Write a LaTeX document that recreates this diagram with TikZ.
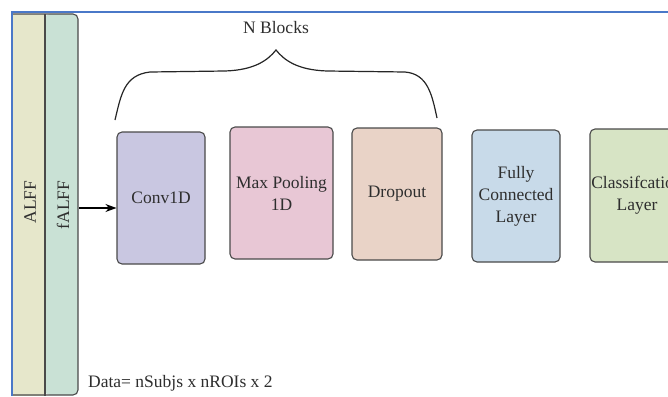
\documentclass[tikz,border=0pt]{standalone}
\usepackage{fontspec}
\setmainfont{Liberation Serif}
\usetikzlibrary{arrows.meta}
\definecolor{frameblue}{HTML}{4A78C8}
\definecolor{edge}{HTML}{4A4A4A}
\definecolor{txt}{HTML}{2E2E2E}
\definecolor{cAlff}{HTML}{E6E7CB}
\definecolor{cFalff}{HTML}{C9E1D5}
\definecolor{cConv}{HTML}{C9C7E1}
\definecolor{cPool}{HTML}{E8C7D5}
\definecolor{cDrop}{HTML}{E9D3C7}
\definecolor{cFc}{HTML}{C8DAE9}
\definecolor{cCls}{HTML}{D7E4C5}
\tikzset{
  layerbox/.style={draw=edge, line width=1.1pt, rounded corners=5pt, text=txt,
    align=center, font=\fontsize{17.5}{22}\selectfont, inner sep=0pt},
  lbl/.style={text=txt, font=\fontsize{17.5}{22}\selectfont, inner sep=0pt},
}
\begin{document}
\begin{tikzpicture}[x=1pt,y=-1pt]
\useasboundingbox (0,0) rectangle (668,396);
\clip (0,0) rectangle (668,396);
\fill[white] (0,0) rectangle (668,396);
% data column
\fill[cAlff] (13,14) rectangle (45,396);
\fill[cFalff, rounded corners=5pt] (45,14) -- (78,14) -- (78,395) -- (45,395) -- cycle;
\draw[edge, line width=1.1pt, rounded corners=5pt] (13,14) -- (78,14) -- (78,395) -- (13,395);
\draw[edge, line width=1.1pt] (45,14) -- (45,396);
\node[lbl, rotate=90] (alff) at (30,202) {ALFF};
\node[lbl, rotate=90] (falff) at (63,205) {fALFF};
\coordinate (src) at (79,208);
% frame lines
\draw[frameblue, line width=1.8pt] (12,396) -- (12,12) -- (668,12);
% layers
\node[layerbox, fill=cConv, minimum width=88pt, minimum height=132pt] (conv) at (161,198) {Conv1D};
\node[layerbox, fill=cPool, minimum width=103pt, minimum height=132pt] (pool) at (281.5,193) {Max Pooling\\1D};
\node[layerbox, fill=cDrop, minimum width=90pt, minimum height=132pt] (drop) at (397,194) {Dropout};
\node[layerbox, fill=cFc, minimum width=88pt, minimum height=132pt] (fc) at (516,196) {Fully\\Connected\\Layer};
\node[layerbox, fill=cCls, minimum width=94pt, minimum height=133pt] (cls) at (637,195.5) {Classifcation\\Layer};
% arrow
\draw[-{Stealth[length=11pt,width=8pt]}, black, line width=1.1pt] (src) -- (conv.west |- src);
% brace
\draw[black!85, line width=1.2pt] (115,120) .. controls (121,95) and (124,75) .. (150,72)
  -- (225,71) .. controls (255,70) and (268,60) .. (276,50)
  .. controls (284,60) and (297,70) .. (327,71) -- (405,72)
  .. controls (428,74) and (432,95) .. (437,118);
\node[lbl] (nb) at (276,28) {N Blocks};
\node[lbl, anchor=west] (data) at (88,383) {Data= nSubjs x nROIs x 2};
\end{tikzpicture}
\end{document}
